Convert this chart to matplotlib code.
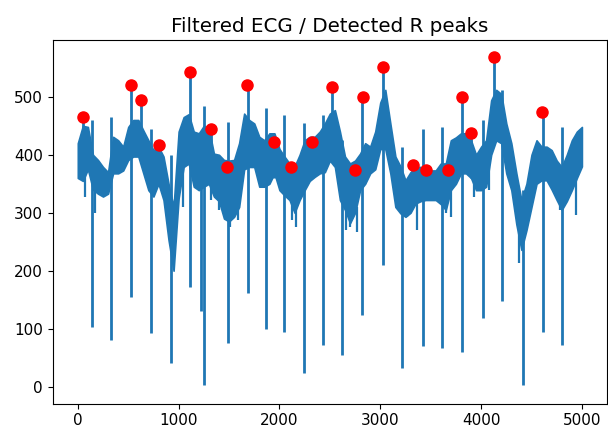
import numpy as np
import matplotlib
matplotlib.use('Agg')
import matplotlib.pyplot as plt

# Filtered ECG (low/high every 50 samples)
env_t = np.arange(0, 5001, 50)
env_low = [360, 355, 375, 340, 333, 328, 333, 368, 368, 373,
           391, 397, 397, 368, 339, 328, 350, 322, 253, 200,
           325, 379, 385, 345, 339, 345, 350, 328, 320, 290,
           285, 293, 310, 375, 379, 379, 345, 345, 350, 368,
           339, 330, 322, 300, 322, 339, 355, 362, 368, 370,
           390, 379, 322, 305, 282, 300, 339, 350, 368, 375,
           410, 410, 368, 310, 299, 293, 300, 316, 320, 322,
           322, 322, 315, 305, 339, 350, 368, 368, 360, 339,
           339, 345, 400, 425, 420, 368, 339, 280, 236, 270,
           310, 350, 356, 356, 340, 322, 305, 320, 339, 360, 380]
env_high = [420, 450, 448, 400, 391, 379, 370, 431, 425, 414,
            448, 460, 460, 442, 425, 408, 414, 397, 350, 310,
            440, 465, 470, 440, 437, 450, 445, 402, 400, 391,
            390, 391, 420, 471, 460, 454, 431, 425, 437, 437,
            410, 397, 385, 380, 400, 425, 431, 431, 440, 454,
            471, 477, 440, 397, 385, 390, 402, 420, 414, 440,
            490, 512, 454, 397, 380, 356, 370, 379, 379, 379,
            373, 373, 385, 385, 425, 430, 437, 437, 425, 400,
            414, 425, 494, 512, 505, 454, 420, 368, 322, 350,
            400, 425, 414, 414, 408, 390, 379, 400, 425, 440, 448]

# narrow QRS excursions (sample, lowest value, highest value)
spike_t = [47, 140, 334, 530, 625, 730, 806, 922, 1112, 1225, 1250, 1318,
           1489, 1684, 1869, 1944, 2050, 2248, 2324, 2430, 2519, 2621, 2747,
           2820, 3025, 3215, 3327, 3420, 3453, 3613, 3675, 3815, 3898, 4020,
           4129, 4212, 4417, 4610, 4806]
spike_low = [380, 103, 80, 155, 400, 92, 350, 40, 172, 130, 3, 360,
             75, 161, 100, 360, 95, 23, 360, 72, 400, 55, 330,
             124, 210, 32, 330, 70, 330, 66, 330, 60, 360, 118,
             430, 147, 3, 95, 72]
spike_high = [465, 460, 466, 520, 494, 445, 417, 400, 543, 440, 485, 445,
              457, 520, 480, 422, 468, 454, 422, 468, 517, 425, 374,
              500, 552, 414, 382, 445, 374, 448, 374, 500, 437, 460,
              569, 511, 340, 474, 448]

# small noise dips sticking out of the band
blip_t = [70, 170, 1044, 1320, 1400, 1506, 1520, 1590, 2120, 2165, 2660,
          2700, 2770, 3265, 3335, 3365, 3650, 3700, 3925, 4075, 4375, 4400,
          4780, 4940]
blip_low = [328, 299, 310, 322, 305, 276, 287, 287, 287, 276, 270,
            276, 267, 293, 330, 270, 299, 293, 327, 340, 213, 270,
            305, 296]
blip_high = [380, 350, 400, 360, 340, 310, 320, 320, 330, 320, 310,
             310, 310, 320, 391, 320, 320, 340, 360, 430, 290, 300,
             330, 360]

# detected R peaks
peak_t = [47, 526, 625, 806, 1113, 1318, 1483, 1681, 1944, 2110, 2324,
          2519, 2747, 2829, 3030, 3327, 3453, 3675, 3815, 3898, 4129, 4607]
peak_val = [465, 520, 494, 417, 543, 445, 379, 520, 422, 379, 422,
            517, 374, 500, 552, 382, 374, 374, 500, 437, 569, 474]

fig = plt.figure(figsize=(6.08, 4.29), dpi=100)
ax = fig.add_axes([52.6 / 608, 25.5 / 429, 554.4 / 608, 363.5 / 429])

ax.fill_between(env_t, env_low, env_high, color='#1f77b4', lw=1.2)
ax.vlines(spike_t, spike_low, spike_high, color='#1f77b4', lw=2)
ax.vlines(blip_t, blip_low, blip_high, color='#1f77b4', lw=1.6)
ax.plot(peak_t, peak_val, 'ro', ms=8)

ax.set_xlim(-250, 5249)
ax.set_ylim(-29, 598)
ax.set_xticks([0, 1000, 2000, 3000, 4000, 5000])
ax.set_yticks([0, 100, 200, 300, 400, 500])
ax.tick_params(labelsize=11)
ax.set_title('Filtered ECG / Detected R peaks', fontsize=14.3)

fig.savefig('out.png', dpi=100)
